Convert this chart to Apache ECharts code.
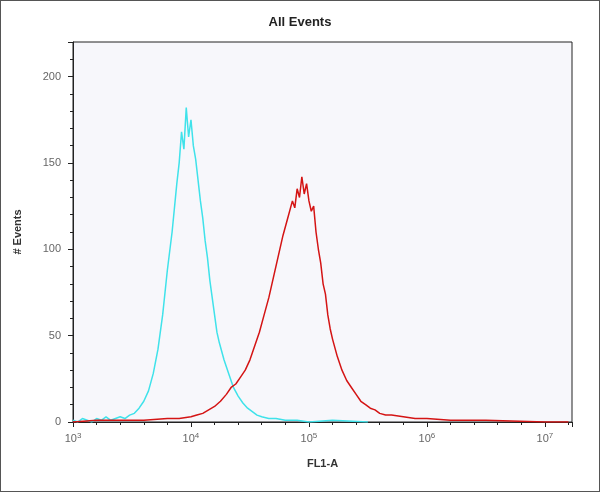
<!DOCTYPE html>
<html>
<head>
    <meta charset="utf-8">
    <script src="https://cdn.jsdelivr.net/npm/echarts@6/dist/echarts.min.js"></script>
    <style>
        html, body { margin: 0; padding: 0; background: #fff; }
        #main { width: 598px; height: 490px; border: 1px solid #555; }
    </style>
</head>
<body>
<div id="main"></div>
<script>
    // x values are log10(FL1-A)
    var cyanX = [3.00,3.04,3.08,3.12,3.16,3.20,3.24,3.28,3.32,3.36,3.40,3.44,3.48,3.52,3.56,3.60,3.64,3.68,3.72,3.76,3.80,3.84,3.88,3.90,3.92,3.94,3.96,3.98,4.00,4.02,4.04,4.06,4.08,4.10,4.12,4.14,4.16,4.18,4.20,4.22,4.24,4.28,4.32,4.36,4.40,4.44,4.48,4.52,4.56,4.60,4.66,4.72,4.80,4.90,5.00,5.20,5.50];
    var cyanY = [1,0,2,1,0,2,1,3,1,2,3,2,4,5,8,12,18,28,42,62,88,110,138,150,168,158,182,165,175,160,152,140,128,118,105,95,82,72,62,52,46,36,28,20,15,11,8,6,4,3,2,2,1,1,0,1,0];
    var redX = [3.00,3.20,3.40,3.60,3.80,3.90,4.00,4.05,4.10,4.15,4.20,4.25,4.30,4.34,4.38,4.42,4.46,4.50,4.54,4.58,4.62,4.66,4.70,4.74,4.78,4.82,4.86,4.88,4.90,4.92,4.94,4.96,4.98,5.00,5.02,5.04,5.06,5.08,5.10,5.12,5.14,5.16,5.18,5.20,5.24,5.28,5.32,5.36,5.40,5.44,5.48,5.52,5.56,5.60,5.65,5.70,5.80,5.90,6.00,6.20,6.50,7.00,7.20];
    var redY = [0,1,1,1,2,2,3,4,5,7,9,12,16,20,22,26,30,36,44,52,62,72,84,96,108,118,128,124,135,130,142,132,138,128,122,125,110,100,92,80,74,62,54,48,38,30,24,20,16,12,10,8,7,5,4,4,3,2,2,1,1,0,0];
    var xTicks = [3, 4, 5, 6, 7];

    function pairs(xs, ys) {
        return xs.map(function (x, i) { return [x, ys[i]]; });
    }

    var chart = echarts.init(document.getElementById('main'));
    chart.setOption({
        animation: false,
        title: {
            text: 'All Events', left: 'center', top: 10,
            textStyle: { fontFamily: 'Liberation Sans', fontSize: 13, fontWeight: 'bold', color: '#222' }
        },
        grid: { left: 72, right: 27, top: 41, bottom: 69, show: true, borderColor: '#222', borderWidth: 1, backgroundColor: '#f7f7fb' },
        xAxis: {
            type: 'value', min: 3, max: 7.23, interval: 1,
            name: 'FL1-A', nameLocation: 'middle', nameGap: 36,
            nameTextStyle: { fontFamily: 'Liberation Sans', fontSize: 11, fontWeight: 'bold', color: '#333' },
            axisLine: { show: true, lineStyle: { color: '#222' } },
            axisTick: { show: true, length: 5, lineStyle: { color: '#222' } },
            minorTick: { show: true, splitNumber: 5, length: 3 },
            splitLine: { show: false },
            axisLabel: {
                color: '#666', margin: 10, showMaxLabel: false,
                formatter: function (v) {
                    return xTicks.indexOf(v) >= 0 ? '10{s|' + v + '}' : '';
                },
                fontFamily: 'Liberation Sans', fontSize: 11,
                rich: { s: { fontSize: 8, verticalAlign: 'top', padding: [0, 0, 6, 0], color: '#666' } }
            }
        },
        yAxis: {
            type: 'value', min: 0, max: 220, interval: 50,
            name: '# Events', nameLocation: 'middle', nameGap: 50,
            nameTextStyle: { fontFamily: 'Liberation Sans', fontSize: 11, fontWeight: 'bold', color: '#333' },
            axisLine: { show: true, lineStyle: { color: '#222' } },
            axisTick: { show: true, length: 5, lineStyle: { color: '#222' } },
            minorTick: { show: true, splitNumber: 5, length: 3 },
            splitLine: { show: false },
            axisLabel: { color: '#666', fontFamily: 'Liberation Sans', fontSize: 11, margin: 12, showMaxLabel: false }
        },
        series: [
            {
                type: 'line', data: pairs(cyanX, cyanY), showSymbol: false,
                lineStyle: { color: '#3fe2ea', width: 1.5 }
            },
            {
                type: 'line', data: pairs(redX, redY), showSymbol: false,
                lineStyle: { color: '#d41414', width: 1.5 }
            }
        ]
    });
</script>
</body>
</html>
